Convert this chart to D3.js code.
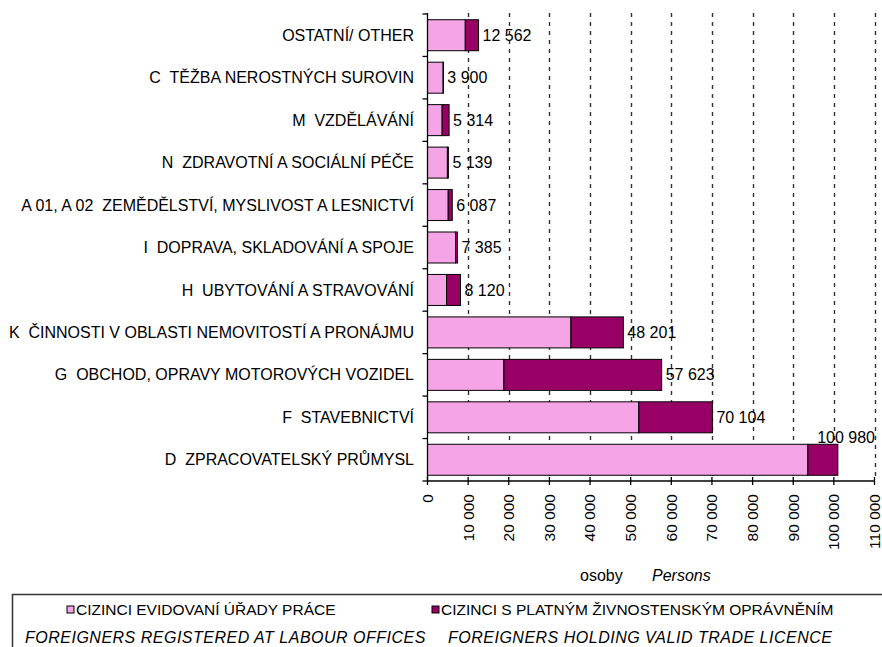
<!DOCTYPE html>
<html>
<head>
<meta charset="utf-8">
<script src="https://cdn.jsdelivr.net/npm/d3@7"></script>
<style>
  html, body { margin: 0; padding: 0; background: #fff; }
  svg { display: block; font-family: "Liberation Sans", Arial, sans-serif; }
  text { white-space: pre; }
</style>
</head>
<body>
<svg id="chart" width="882" height="647"></svg>
<script>
const categories = [
  "OSTATNÍ/ OTHER",
  "C  TĚŽBA NEROSTNÝCH SUROVIN",
  "M  VZDĚLÁVÁNÍ",
  "N  ZDRAVOTNÍ A SOCIÁLNÍ PÉČE",
  "A 01, A 02  ZEMĚDĚLSTVÍ, MYSLIVOST A LESNICTVÍ",
  "I  DOPRAVA, SKLADOVÁNÍ A SPOJE",
  "H  UBYTOVÁNÍ A STRAVOVÁNÍ",
  "K  ČINNOSTI V OBLASTI NEMOVITOSTÍ A PRONÁJMU",
  "G  OBCHOD, OPRAVY MOTOROVÝCH VOZIDEL",
  "F  STAVEBNICTVÍ",
  "D  ZPRACOVATELSKÝ PRŮMYSL"
];
// Foreigners registered at labour offices
const labourOffices = [9300, 3850, 3600, 4900, 5100, 6900, 4700, 35300, 18800, 52000, 93600];
// Foreigners holding valid trade licence
const tradeLicence = [3262, 50, 1714, 239, 987, 485, 3420, 12901, 38823, 18104, 7380];
const xTicks = [0, 10000, 20000, 30000, 40000, 50000, 60000, 70000, 80000, 90000, 100000, 110000];
const seriesNames = ["CIZINCI EVIDOVANÍ ÚŘADY PRÁCE", "CIZINCI S PLATNÝM ŽIVNOSTENSKÝM OPRÁVNĚNÍM"];
const seriesNamesEn = ["FOREIGNERS REGISTERED AT LABOUR OFFICES", "FOREIGNERS HOLDING VALID TRADE LICENCE"];
const colors = ["#F5A5E6", "#990066"];

const svg = d3.select("#chart");
const X0 = 427.5, X1 = 874.5, Y0 = 14, Y1 = 481;
const FS = 16;

const fmt = d3.formatLocale({decimal: ",", thousands: " ", grouping: [3], currency: ["", ""]}).format(",d");

const x = d3.scaleLinear().domain([0, 110000]).range([X0, X1]);
const y = d3.scaleBand().domain(categories).range([Y0, Y1]).paddingInner(0.27).paddingOuter(0.135);

const rows = categories.map((c, i) => ({
  cat: c, a: labourOffices[i], b: tradeLicence[i], total: labourOffices[i] + tradeLicence[i]
}));

// gridlines
svg.append("g").selectAll("line").data(xTicks.filter(t => t > 0)).join("line")
  .attr("x1", d => Math.round(x(d)) + 0.5).attr("x2", d => Math.round(x(d)) + 0.5)
  .attr("y1", Y0 - 1).attr("y2", Y1)
  .attr("stroke", "#333").attr("stroke-width", 1.4).attr("stroke-dasharray", "4,5");

// bars
const bars = svg.append("g");
bars.selectAll("rect.a").data(rows).join("rect")
  .attr("x", x(0)).attr("y", d => y(d.cat))
  .attr("width", d => x(d.a) - x(0)).attr("height", y.bandwidth())
  .attr("fill", colors[0]).attr("stroke", "#000").attr("stroke-width", 1);
bars.selectAll("rect.b").data(rows).join("rect")
  .attr("x", d => x(d.a)).attr("y", d => y(d.cat))
  .attr("width", d => x(d.total) - x(d.a)).attr("height", y.bandwidth())
  .attr("fill", colors[1]).attr("stroke", "#000").attr("stroke-width", 1);

// value labels
svg.append("g").selectAll("text").data(rows).join("text")
  .each(function(d) {
    const t = d3.select(this);
    const label = fmt(d.total);
    const xe = x(d.total) + 4;
    const approxW = label.length * 8.8;
    if (xe + approxW > X1 + 4) {
      t.attr("x", X1 + 0.5).attr("y", y(d.cat) - 7).attr("text-anchor", "end");
    } else {
      t.attr("x", xe).attr("y", y(d.cat) + y.bandwidth() / 2).attr("text-anchor", "start");
    }
    t.text(label);
  })
  .attr("dy", "0.35em").attr("font-size", FS).attr("fill", "#000");

// y axis
const step = y.step();
const boundaries = d3.range(categories.length + 1).map(i => Y0 + i * step);
svg.append("line").attr("x1", X0).attr("x2", X0).attr("y1", Y0 - 1).attr("y2", Y1)
  .attr("stroke", "#000").attr("stroke-width", 1.3);
svg.append("g").selectAll("line").data(boundaries).join("line")
  .attr("x1", X0 - 5).attr("x2", X0).attr("y1", d => d).attr("y2", d => d)
  .attr("stroke", "#000").attr("stroke-width", 1.3);
svg.append("g").selectAll("text").data(categories).join("text")
  .attr("x", 414).attr("y", d => y(d) + y.bandwidth() / 2).attr("dy", "0.35em")
  .attr("text-anchor", "end").attr("font-size", FS).attr("fill", "#000")
  .text(d => d);

// x axis
svg.append("line").attr("x1", X0).attr("x2", X1).attr("y1", Y1).attr("y2", Y1)
  .attr("stroke", "#000").attr("stroke-width", 1.3);
svg.append("g").selectAll("line").data(xTicks).join("line")
  .attr("x1", d => x(d)).attr("x2", d => x(d)).attr("y1", Y1 - 4).attr("y2", Y1 + 4)
  .attr("stroke", "#000").attr("stroke-width", 1.3);
svg.append("g").selectAll("text").data(xTicks).join("text")
  .attr("transform", d => `translate(${x(d)},494) rotate(-90)`)
  .attr("dy", "0.35em").attr("text-anchor", "end").attr("font-size", 15.5).attr("fill", "#000")
  .text(d => fmt(d));

// axis title
svg.append("text").attr("x", 580).attr("y", 575).attr("dy", "0.35em")
  .attr("font-size", FS).text("osoby");
svg.append("text").attr("x", 652).attr("y", 575).attr("dy", "0.35em")
  .attr("font-size", FS).attr("font-style", "italic").text("Persons");

// legend
const lg = svg.append("g");
lg.append("path").attr("d", "M12.5,660 L12.5,594.5 L890,594.5")
  .attr("fill", "none").attr("stroke", "#333").attr("stroke-width", 1.5);
const legX = [67, 432];
const legEnX = [25, 448];
seriesNames.forEach((n, i) => {
  lg.append("rect").attr("x", legX[i]).attr("y", 606).attr("width", 7).attr("height", 7)
    .attr("fill", colors[i]).attr("stroke", "#000").attr("stroke-width", 1);
  lg.append("text").attr("x", legX[i] + 9).attr("y", 610).attr("dy", "0.35em")
    .attr("font-size", 15.5).text(n);
  lg.append("text").attr("x", legEnX[i]).attr("y", 637).attr("dy", "0.35em")
    .attr("font-size", FS).attr("font-style", "italic").attr("letter-spacing", 0.5).text(seriesNamesEn[i]);
});
</script>
</body>
</html>
